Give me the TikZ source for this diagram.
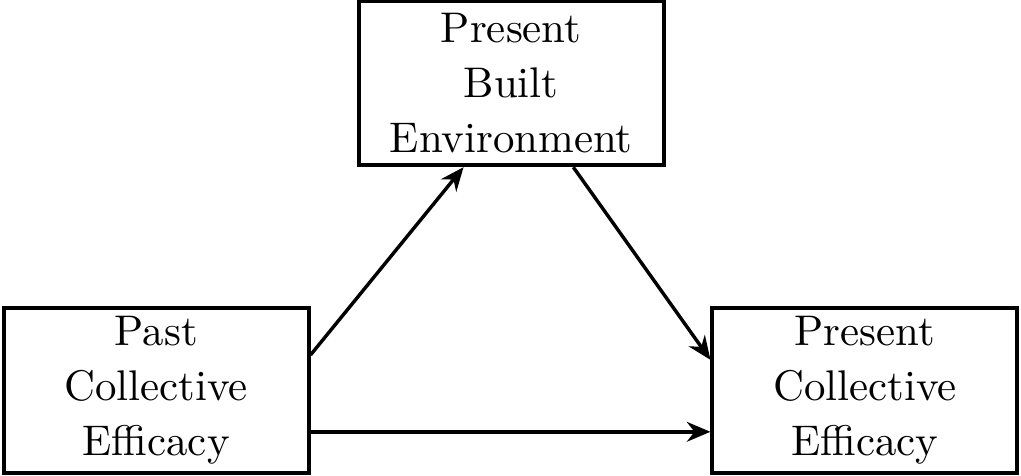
\documentclass[tikz,border=0pt]{standalone}
\usepackage{amsmath,amssymb}
\usepackage{tikz}
\usepackage{xcolor}
\usetikzlibrary{arrows.meta}

\begin{document}
\begin{tikzpicture}[thick, box/.style={draw, line width=0.9pt, align=center, font=\linespread{1.07}\selectfont, minimum width=2.5cm, minimum height=1.35cm, inner sep=1pt}, link/.style={-{Stealth[length=5.5pt,width=4.6pt]}}]
  \useasboundingbox (0,0) rectangle (8.37,3.90);
  \node[box] (past) at (1.28,0.70) {Past\\Collective\\Efficacy};
  \node[box] (built) at (4.19,3.22) {Present\\Built\\Environment};
  \node[box] (pres) at (7.09,0.70) {Present\\Collective\\Efficacy};
  \draw[link] ([yshift=0.29cm]past.east) -- ([xshift=-0.39cm]built.south);
  \draw[link] ([xshift=0.51cm]built.south) -- ([yshift=0.25cm]pres.west);
  \draw[link] ([yshift=-0.34cm]past.east) -- ([yshift=-0.34cm]pres.west);
\end{tikzpicture}
\end{document}
